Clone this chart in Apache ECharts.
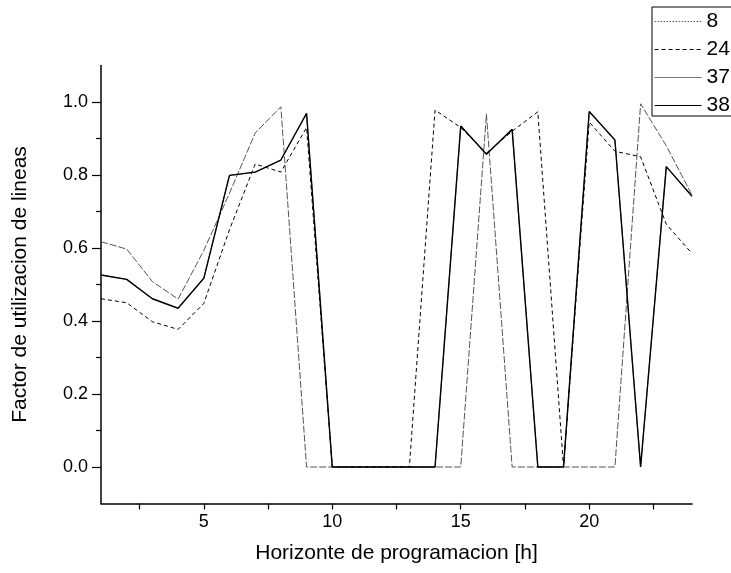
<!DOCTYPE html>
<html>
<head>
<meta charset="utf-8">
<script src="https://cdn.jsdelivr.net/npm/echarts@6/dist/echarts.min.js"></script>
<style>html,body{margin:0;padding:0;background:#fff;}#c{width:731px;height:573px;}</style>
</head>
<body>
<div id="c"></div>
<script>
var hours = [1,2,3,4,5,6,7,8,9,10,11,12,13,14,15,16,17,18,19,20,21,22,23,24];
var s8  = [0.617,0.597,0.508,0.46,0.593,0.75,0.915,0.987,0,0,0,0,0,0,0,0.967,0,0,0,0,0,0.995,0.88,0.745];
var s24 = [0.461,0.45,0.398,0.377,0.448,0.65,0.83,0.808,0.93,0,0,0,0,0.978,0.93,0.86,0.92,0.973,0,0.945,0.865,0.85,0.665,0.585];
var s37 = [0.526,0.514,0.461,0.435,0.517,0.799,0.808,0.841,0.969,0,0,0,0,0,0.934,0.857,0.925,0,0,0.974,0.896,0,0.823,0.742];
var s38 = [0.526,0.514,0.461,0.435,0.517,0.799,0.808,0.841,0.969,0,0,0,0,0,0.934,0.857,0.925,0,0,0.974,0.896,0,0.823,0.742];
var xLabelValues = [5,10,15,20];
var xTickValues = [2.5,5,7.5,10,12.5,15,17.5,20,22.5];
var yLabelValues = [0,0.2,0.4,0.6,0.8,1.0];
var yMinorValues = [0.1,0.3,0.5,0.7,0.9];
var names = ['8','24','37','38'];

function pairs(arr){ return hours.map(function(h,i){ return [h, arr[i]]; }); }

var FONT = 'Liberation Sans, Arial, sans-serif';
var chart = echarts.init(document.getElementById('c'), null, {renderer:'canvas'});
chart.setOption({
  animation: false,
  backgroundColor: '#fff',
  textStyle: {fontFamily: FONT, color: '#000'},
  grid: {left: 101, right: 39, top: 65.5, bottom: 69.5, containLabel: false},
  legend: {
    orient: 'vertical', left: 652, top: 7,
    borderColor: '#000', borderWidth: 1, borderRadius: 0,
    padding: [4, 30, 0, 2],
    itemWidth: 47, itemHeight: 14, itemGap: 7,
    itemStyle: {opacity: 0},
    textStyle: {fontFamily: FONT, fontSize: 21, color: '#000', lineHeight: 21, padding: [0,0,0,0]},
    data: [
      {name: '8', lineStyle: {type: [1.5,1.5], color: '#555', width: 1}},
      {name: '24', lineStyle: {type: [4,3], color: '#000', width: 1}},
      {name: '37', lineStyle: {type: 'solid', color: '#777', width: 1.2}},
      {name: '38', lineStyle: {type: 'solid', color: '#000', width: 1.2}}
    ]
  },
  xAxis: [{
    type: 'value', min: 1, max: 24,
    name: 'Horizonte de programacion [h]', nameLocation: 'middle', nameGap: 39,
    nameTextStyle: {fontFamily: FONT, fontSize: 21, color: '#000'},
    axisLine: {show: true, onZero: false, lineStyle: {color: '#000', width: 1.5}},
    axisTick: {show: true, inside: false, length: 6, customValues: xTickValues, lineStyle: {color: '#000', width: 1.2}},
    axisLabel: {show: true, margin: 10, fontFamily: FONT, fontSize: 18, color: '#000', customValues: xLabelValues},
    splitLine: {show: false}
  }],
  yAxis: [{
    type: 'value', min: -0.1, max: 1.1,
    name: 'Factor de utilizacion de lineas', nameLocation: 'middle', nameGap: 70, nameRotate: 90,
    nameTextStyle: {fontFamily: FONT, fontSize: 21, color: '#000'},
    axisLine: {show: true, onZero: false, lineStyle: {color: '#000', width: 1.5}},
    axisTick: {show: true, inside: false, length: 9, customValues: yLabelValues, lineStyle: {color: '#000', width: 1.2}},
    axisLabel: {show: true, margin: 13, fontFamily: FONT, fontSize: 18, color: '#000', customValues: yLabelValues,
      formatter: function(v){ return v.toFixed(1); }},
    splitLine: {show: false}
  },{
    type: 'value', min: -0.1, max: 1.1, position: 'left',
    axisLine: {show: false},
    axisTick: {show: true, inside: false, length: 5, customValues: yMinorValues, lineStyle: {color: '#000', width: 1.2}},
    axisLabel: {show: false},
    splitLine: {show: false}
  }],
  series: [
    {name: names[0], type: 'line', data: pairs(s8), symbol: 'none', z: 2,
      lineStyle: {type: [7,2], color: '#555', width: 1}},
    {name: names[1], type: 'line', data: pairs(s24), symbol: 'none', z: 3,
      lineStyle: {type: [4,3], color: '#000', width: 1}},
    {name: names[2], type: 'line', data: pairs(s37), symbol: 'none', z: 1,
      lineStyle: {type: 'solid', color: '#777', width: 1}},
    {name: names[3], type: 'line', data: pairs(s38), symbol: 'none', z: 4,
      lineStyle: {type: 'solid', color: '#000', width: 1.4}}
  ]
});
</script>
</body>
</html>
